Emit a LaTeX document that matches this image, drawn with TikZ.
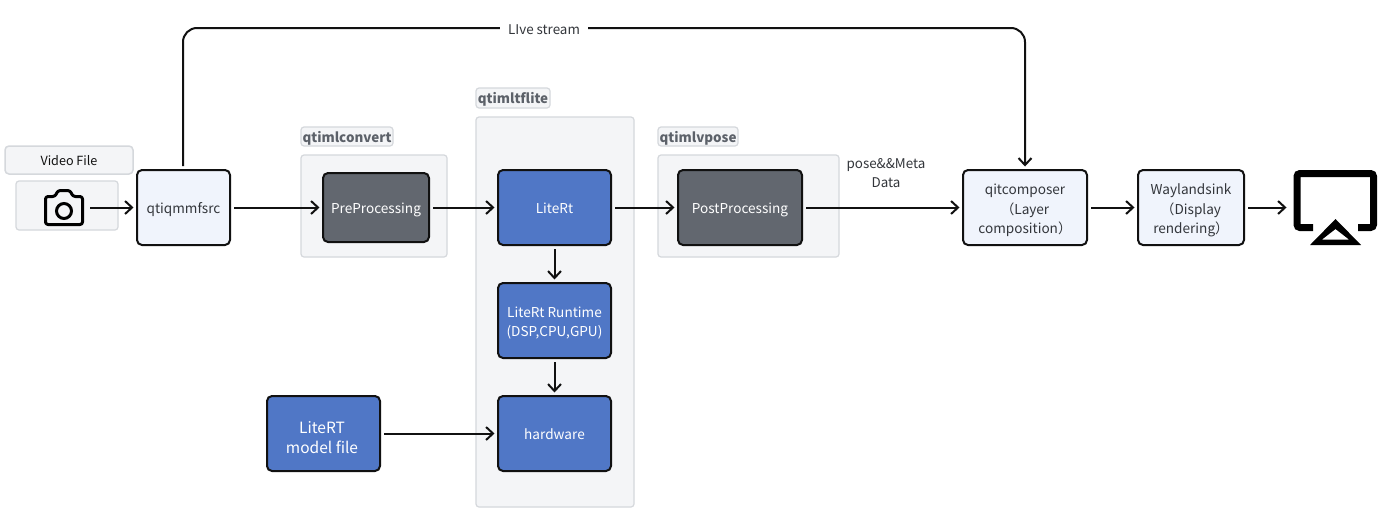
\documentclass[tikz,border=0pt]{standalone}
\usepackage{fontspec}
\setmainfont{Noto Sans CJK SC}
\usetikzlibrary{arrows.meta,calc}
\definecolor{ink}{HTML}{111111}
\definecolor{txt}{HTML}{33363B}
\definecolor{lightb}{HTML}{F0F4FC}
\definecolor{grp}{HTML}{F4F5F7}
\definecolor{grpl}{HTML}{D5D8DC}
\definecolor{dark}{HTML}{62676F}
\definecolor{blu}{HTML}{5077C6}
\definecolor{lab}{HTML}{5C6169}
\tikzset{
  x=1pt,y=-1pt,
  base/.style={rectangle,rounded corners=5pt,inner sep=0pt,align=center,font=\fontsize{13.6}{19.5}\selectfont,
    execute at begin node={\rule{0pt}{15pt}},execute at end node={\rule[-4pt]{0pt}{4pt}}},
  lightbox/.style={base,draw=ink,line width=2pt,fill=lightb,text=txt},
  darkbox/.style={base,draw=ink,line width=2pt,fill=dark,text=white},
  bluebox/.style={base,draw=ink,line width=2pt,fill=blu,text=white},
  group/.style={base,draw=grpl,line width=1.2pt,fill=grp,rounded corners=3pt},
  grouplabel/.style={base,draw=grpl,line width=1.2pt,fill=grp,rounded corners=3pt,text=lab,font=\fontsize{13.4}{16}\selectfont\bfseries},
  conn/.style={draw=ink,line width=2pt,-{Straight Barb[length=7pt,width=13pt,line width=2pt]},shorten >=2.5pt,shorten <=3pt},
  plain/.style={text=txt,inner sep=0pt,align=center,font=\fontsize{13.4}{19.5}\selectfont},
}
\newcommand{\bx}[7][]{\node[#2,minimum width=#5-#4,minimum height=#7-#6,#1] (#3) at ({(#4+#5)/2},{(#6+#7)/2})}
\newcommand{\mlines}[2]{\raisebox{#1}[0pt][0pt]{\begin{tabular}{@{}c@{}}#2\end{tabular}}}
\begin{document}
\begin{tikzpicture}
\useasboundingbox (0,0) rectangle (1394,517);
\fill[white] (0,0) rectangle (1394,517);
% groups
\bx{group}{gcam}{16}{118}{181}{230} {};
\bx{group}{gconv}{301}{447}{155}{257} {};
\bx{group}{gtfl}{476}{634}{117}{507} {};
\bx{group}{gpose}{658}{839}{155}{257} {};
\bx{grouplabel}{lconv}{301}{393}{127}{146} {qtimlconvert};
\bx{grouplabel}{ltfl}{476}{550}{88}{108} {qtimltflite};
\bx{grouplabel}{lpose}{658}{738}{127}{146} {qtimlvpose};
% boxes
\bx[line width=1.5pt,rounded corners=4pt,text=ink,font=\fontsize{12.6}{16}\selectfont]{group}{video}{5}{133}{146}{174} {Video File};
\bx{lightbox}{src}{137}{230}{170}{245} {qtiqmmfsrc};
\bx{darkbox}{pre}{323}{429}{173}{242} {PreProcessing};
\bx{bluebox}{lite}{498}{611}{170}{245} {LiteRt};
\bx{bluebox}{rt}{498}{611}{283}{358} {\mlines{-0.5pt}{LiteRt Runtime\\(DSP,CPU,GPU)}};
\bx{bluebox}{hw}{498}{611}{396}{471} {hardware};
\bx[font=\fontsize{15.5}{20.5}\selectfont]{bluebox}{model}{267}{380}{396}{471} {\mlines{-4pt}{LiteRT\hspace*{3pt}\\model file\hspace*{3pt}}};
\bx{darkbox}{post}{678}{802}{170}{245} {PostProcessing};
\bx{lightbox}{comp}{963}{1087}{170}{245} {\mlines{-0.7pt}{qitcomposer\\（Layer\\composition）}};
\bx{lightbox}{way}{1138}{1244}{170}{245} {\mlines{-0.7pt}{Waylandsink\\（Display\\rendering）}};
% camera icon
\coordinate (camR) at (87,208);
\draw[black,line width=3pt,rounded corners=2.5pt,line join=round]
  (45.5,196.5) -- (55,196.5) -- (58,190.5) -- (70,190.5) -- (73,196.5) -- (82.5,196.5) -- (82.5,224.5) -- (45.5,224.5) -- cycle;
\draw[black,line width=3pt] (64,211) circle (7.5);
% display icon
\coordinate (dispL) at (1289,208);
\draw[black,line width=7pt,rounded corners=3pt] (1313,227.5) -- (1297,227.5) -- (1297,173.5) -- (1373.5,173.5) -- (1373.5,227.5) -- (1358,227.5);
\fill[black,even odd rule] (1335.5,219) -- (1310,245) -- (1361,245) -- cycle (1335.5,229) -- (1322,239.5) -- (1349,239.5) -- cycle;
% connectors
\draw[conn] (camR|-src.west) -- (src.west);
\draw[conn] (src.east) -- (pre.west);
\draw[conn] (pre.east) -- (lite.west);
\draw[conn] (lite.east) -- (post.west);
\draw[conn] (post.east) -- (comp.west);
\draw[conn] (comp.east) -- (way.west);
\draw[conn] (way.east) -- (dispL|-way.east);
\draw[conn] (lite.south) -- (rt.north);
\draw[conn] (rt.south) -- (hw.north);
\draw[conn] (model.east) -- (hw.west);
\coordinate (liveL) at (183,28);
\coordinate (liveR) at (1025,28);
\draw[conn,rounded corners=14pt] (src.north-|liveL) -- (liveL) -- (liveR) -- (comp.north-|liveR);
\node[plain,fill=white,inner xsep=8pt,inner ysep=2pt] (live) at (544,30) {LIve stream};
\node[plain] (meta) at (886,173) {pose\&\&Meta\\Data};
\end{tikzpicture}
\end{document}
